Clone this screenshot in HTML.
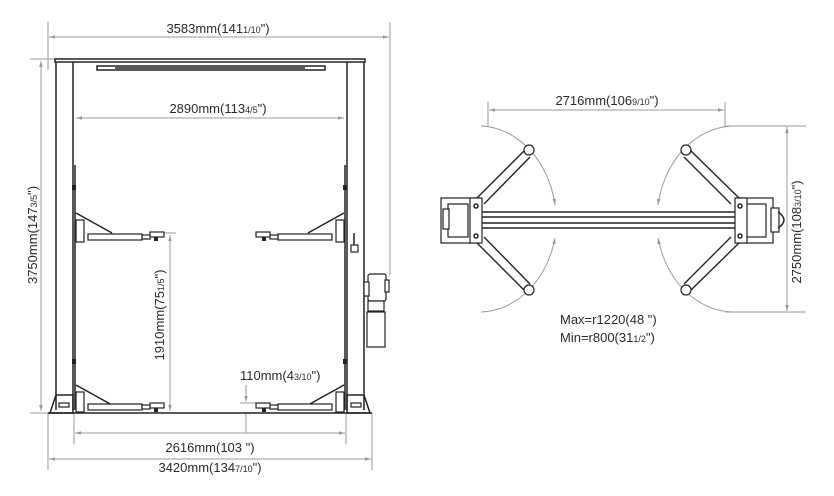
<!DOCTYPE html>
<html><head><meta charset="utf-8"><style>
html,body{margin:0;padding:0;background:#fff;width:834px;height:496px;overflow:hidden}
svg{display:block}
text{font-family:"Liberation Sans","DejaVu Sans",sans-serif;fill:#2a2a2a;font-size:13px}
.d{stroke:#9a9a9a;stroke-width:1;fill:none}
.k{stroke:#222;stroke-width:1.5;fill:none}
.kf{stroke:#222;stroke-width:1.2;fill:#fff}
</style></head><body>
<svg width="834" height="496" viewBox="0 0 834 496" xmlns="http://www.w3.org/2000/svg">
<defs>
<marker id="a" viewBox="0 0 10 10" refX="10" refY="5" markerWidth="9" markerHeight="6" orient="auto-start-reverse" markerUnits="userSpaceOnUse"><path d="M0,2 L10,5 L0,8 z" fill="#9a9a9a"/></marker>
</defs>

<line class="d" x1="48" y1="22" x2="48" y2="70"/>
<line class="d" x1="390" y1="22" x2="390" y2="275"/>
<line class="d" x1="30" y1="59" x2="55" y2="59"/>
<line class="d" x1="30" y1="413" x2="48" y2="413"/>
<line class="d" x1="48" y1="413" x2="48" y2="470"/>
<line class="d" x1="372" y1="413" x2="372" y2="470"/>
<line class="d" x1="74" y1="413" x2="74" y2="444"/>
<line class="d" x1="346" y1="413" x2="346" y2="444"/>
<line class="d" x1="160" y1="233" x2="176" y2="233"/>
<line class="d" x1="160" y1="413" x2="176" y2="413"/>
<line class="d" x1="240" y1="403" x2="258" y2="403"/>
<line class="d" x1="49" y1="37" x2="389" y2="37" marker-start="url(#a)" marker-end="url(#a)"/>
<text x="218" y="33" text-anchor="middle">3583mm(141<tspan font-size="9">1/10</tspan>")</text>
<line class="d" x1="76" y1="118" x2="344" y2="118" marker-start="url(#a)" marker-end="url(#a)"/>
<text x="218" y="113" text-anchor="middle">2890mm(113<tspan font-size="9">4/5</tspan>")</text>
<line class="d" x1="41" y1="61" x2="41" y2="411" marker-start="url(#a)" marker-end="url(#a)"/>
<text transform="translate(37,235) rotate(-90)" text-anchor="middle">3750mm(147<tspan font-size="9">3/5</tspan>")</text>
<line class="d" x1="170" y1="235" x2="170" y2="411" marker-start="url(#a)" marker-end="url(#a)"/>
<text transform="translate(164,315) rotate(-90)" text-anchor="middle">1910mm(75<tspan font-size="9">1/5</tspan>")</text>
<line class="d" x1="246" y1="385" x2="246" y2="402" marker-end="url(#a)"/>
<line class="d" x1="246" y1="413" x2="246" y2="433"/>
<text x="240" y="380">110mm(4<tspan font-size="9">3/10</tspan>")</text>
<line class="d" x1="75" y1="433" x2="345" y2="433" marker-start="url(#a)" marker-end="url(#a)"/>
<text x="210" y="452" text-anchor="middle">2616mm(103 ")</text>
<line class="d" x1="49" y1="459" x2="371" y2="459" marker-start="url(#a)" marker-end="url(#a)"/>
<text x="210" y="472" text-anchor="middle">3420mm(134<tspan font-size="9">7/10</tspan>")</text>

<rect class="k" x="55" y="59" width="310" height="3" stroke-width="1.8"/>
<rect class="k" x="97" y="66" width="228" height="4"/>
<line class="k" x1="115" y1="68" x2="305" y2="68" stroke-width="1"/>
<line class="k" x1="56" y1="62" x2="56" y2="410" stroke-width="1.8"/>
<line class="k" x1="73" y1="62" x2="73" y2="410" stroke-width="1.8"/>
<line class="k" x1="75" y1="165" x2="75" y2="410" stroke-width="2.2"/>
<rect x="72" y="185" width="4" height="5" fill="#222"/>
<rect x="72" y="359" width="4" height="5" fill="#222"/>
<line class="k" x1="347" y1="62" x2="347" y2="410" stroke-width="1.8"/>
<line class="k" x1="364" y1="62" x2="364" y2="410" stroke-width="1.8"/>
<line class="k" x1="345" y1="165" x2="345" y2="410" stroke-width="2.2"/>
<rect x="343" y="185" width="4" height="5" fill="#222"/>
<rect x="343" y="359" width="4" height="5" fill="#222"/>
<path class="k" d="M50,413 L56,395 L73,395 L73,413 Z"/>
<rect class="kf" x="59" y="403" width="10" height="4"/>
<path class="k" d="M370,413 L364,395 L347,395 L347,413 Z"/>
<rect class="kf" x="351" y="403" width="10" height="4"/>
<line class="k" x1="48" y1="413" x2="372" y2="413"/>
<g>
<path class="k" d="M76,213 L112,233"/>
<rect class="kf" x="76" y="220" width="8" height="22"/>
<rect class="kf" x="88" y="234" width="54" height="6"/>
<rect class="kf" x="142" y="235" width="8" height="4"/>
<rect class="kf" x="150" y="232" width="14" height="5"/>
<rect x="154" y="237" width="4" height="4" fill="#222"/>
</g>
<g>
<path class="k" d="M344,213 L308,233"/>
<rect class="kf" x="336" y="220" width="8" height="22"/>
<rect class="kf" x="278" y="234" width="54" height="6"/>
<rect class="kf" x="270" y="235" width="8" height="4"/>
<rect class="kf" x="256" y="232" width="14" height="5"/>
<rect x="262" y="237" width="4" height="4" fill="#222"/>
<line class="k" x1="354" y1="233" x2="354" y2="245"/>
<rect class="kf" x="351" y="245" width="7" height="7"/>
</g>
<g>
<path class="k" d="M76,385 L112,405"/>
<rect class="kf" x="76" y="392" width="8" height="20"/>
<rect class="kf" x="88" y="404" width="54" height="6"/>
<rect class="kf" x="142" y="405" width="8" height="4"/>
<rect class="kf" x="150" y="403" width="14" height="5"/>
<rect x="154" y="408" width="4" height="4" fill="#222"/>
</g>
<g>
<path class="k" d="M344,385 L308,405"/>
<rect class="kf" x="336" y="392" width="8" height="20"/>
<rect class="kf" x="278" y="404" width="54" height="6"/>
<rect class="kf" x="270" y="405" width="8" height="4"/>
<rect class="kf" x="256" y="403" width="14" height="5"/>
<rect x="262" y="408" width="4" height="4" fill="#222"/>
</g>
<rect class="kf" x="368" y="274" width="18" height="27" rx="2"/>
<rect class="kf" x="364" y="282" width="5" height="14"/>
<rect class="kf" x="385" y="280" width="4" height="12"/>
<rect class="kf" x="368" y="301" width="16" height="10"/>
<rect class="kf" x="367" y="312" width="18" height="35"/>

<line class="d" x1="488" y1="102" x2="488" y2="126"/>
<line class="d" x1="725" y1="102" x2="725" y2="126"/>
<line class="d" x1="489" y1="110" x2="724" y2="110" marker-start="url(#a)" marker-end="url(#a)"/>
<text x="607" y="105" text-anchor="middle">2716mm(106<tspan font-size="9">9/10</tspan>")</text>
<line class="d" x1="725" y1="126" x2="806" y2="126"/>
<line class="d" x1="725" y1="312" x2="806" y2="312"/>
<line class="d" x1="787" y1="127" x2="787" y2="311" marker-start="url(#a)" marker-end="url(#a)"/>
<text transform="translate(801,232) rotate(-90)" text-anchor="middle">2750mm(108<tspan font-size="9">3/10</tspan>")</text>
<path class="d" d="M481,126 A78,95 0 0 1 555,205" marker-end="url(#a)"/>
<path class="d" d="M555,238 A78,95 0 0 1 481,312" marker-start="url(#a)"/>
<path class="d" d="M732,126 A78,95 0 0 0 658,205" marker-end="url(#a)"/>
<path class="d" d="M658,238 A78,95 0 0 0 732,312" marker-start="url(#a)"/>
<rect class="k" x="478" y="212" width="259" height="16"/>
<line class="k" x1="478" y1="217" x2="737" y2="217" stroke-width="1"/>
<line class="k" x1="478" y1="223" x2="737" y2="223" stroke-width="1"/>
<rect class="kf" x="441" y="198" width="38" height="45"/>
<rect class="kf" x="448" y="204" width="20" height="33"/>
<rect class="kf" x="443" y="209" width="6" height="20"/>
<rect class="kf" x="470" y="198" width="12" height="45"/>
<circle cx="476" cy="206" r="2" class="k"/><circle cx="476" cy="236" r="2" class="k"/>
<rect class="kf" x="737" y="198" width="36" height="45"/>
<rect class="kf" x="744" y="204" width="22" height="33"/>
<rect class="kf" x="735" y="198" width="12" height="45"/>
<rect class="kf" x="771" y="208" width="8" height="24"/>
<path class="k" d="M778,212 Q790,220 778,228"/>
<circle cx="740" cy="206" r="2" class="k"/><circle cx="740" cy="236" r="2" class="k"/>
<g stroke="#222" stroke-width="1.4" fill="none">
<path d="M477,198 L525,150 M484,204 L530,157"/>
<path d="M477,243 L525,291 M484,237 L530,284"/>
<path d="M739,198 L690,150 M731,204 L684,157"/>
<path d="M739,243 L690,291 M731,237 L684,284"/>
</g>
<g class="kf" stroke-width="1.6">
<circle cx="529" cy="150" r="5"/><circle cx="529" cy="290" r="5"/>
<circle cx="686" cy="150" r="5"/><circle cx="686" cy="290" r="5"/>
</g>
<text x="560" y="324">Max=r1220(48 ")</text>
<text x="560" y="342">Min=r800(31<tspan font-size="9">1/2</tspan>")</text>
</svg>
</body></html>
